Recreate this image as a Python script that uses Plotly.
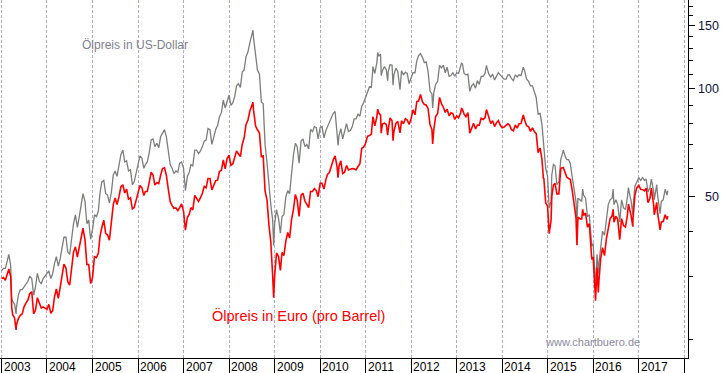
import math
import plotly.graph_objects as go

# ---------------- data ----------------
dates = [
    # 2003
    "2003-01-01", "2003-01-16", "2003-02-01", "2003-02-16", "2003-03-01", "2003-03-16", "2003-03-24",
    "2003-04-01", "2003-04-16", "2003-04-28", "2003-05-01", "2003-05-16", "2003-06-01", "2003-06-16",
    "2003-07-01", "2003-07-16", "2003-08-01", "2003-08-16", "2003-09-01", "2003-09-16", "2003-10-01",
    "2003-10-16", "2003-11-01", "2003-11-16", "2003-12-01", "2003-12-16",
    # 2004
    "2004-01-01", "2004-01-16", "2004-02-01", "2004-02-16", "2004-03-01", "2004-03-16", "2004-04-01",
    "2004-04-16", "2004-05-01", "2004-05-16", "2004-06-01", "2004-06-16", "2004-07-01", "2004-07-16",
    "2004-08-01", "2004-08-16", "2004-09-01", "2004-09-16", "2004-10-01", "2004-10-16", "2004-11-01",
    "2004-11-16", "2004-12-01", "2004-12-16", "2004-12-28",
    # 2005
    "2005-01-01", "2005-01-16", "2005-02-01", "2005-02-16", "2005-03-01", "2005-03-16", "2005-04-01",
    "2005-04-16", "2005-05-01", "2005-05-16", "2005-06-01", "2005-06-16", "2005-07-01", "2005-07-16",
    "2005-08-01", "2005-08-16", "2005-09-01", "2005-09-16", "2005-10-01", "2005-10-16", "2005-11-01",
    "2005-11-16", "2005-12-01", "2005-12-16",
    # 2006
    "2006-01-01", "2006-01-16", "2006-02-01", "2006-02-16", "2006-03-01", "2006-03-16", "2006-04-01",
    "2006-04-16", "2006-05-01", "2006-05-16", "2006-06-01", "2006-06-16", "2006-07-01", "2006-07-16",
    "2006-08-01", "2006-08-16", "2006-09-01", "2006-09-16", "2006-10-01", "2006-10-16", "2006-11-01",
    "2006-11-16", "2006-12-01", "2006-12-16",
    # 2007
    "2007-01-01", "2007-01-16", "2007-02-01", "2007-02-16", "2007-03-01", "2007-03-16", "2007-04-01",
    "2007-04-16", "2007-05-01", "2007-05-16", "2007-06-01", "2007-06-16", "2007-07-01", "2007-07-16",
    "2007-08-01", "2007-08-16", "2007-09-01", "2007-09-16", "2007-10-01", "2007-10-16", "2007-11-01",
    "2007-11-16", "2007-12-01", "2007-12-16",
    # 2008
    "2008-01-01", "2008-01-16", "2008-02-01", "2008-02-16", "2008-03-01", "2008-03-16", "2008-04-01",
    "2008-04-16", "2008-05-01", "2008-05-16", "2008-06-01", "2008-06-16", "2008-07-01", "2008-07-11",
    "2008-07-16", "2008-08-01", "2008-08-16", "2008-09-01", "2008-09-16", "2008-10-01", "2008-10-16",
    "2008-11-01", "2008-11-16", "2008-12-01", "2008-12-16", "2008-12-24",
    # 2009
    "2009-01-01", "2009-01-16", "2009-02-01", "2009-02-16", "2009-03-01", "2009-03-16", "2009-04-01",
    "2009-04-16", "2009-05-01", "2009-05-16", "2009-06-01", "2009-06-16", "2009-07-01", "2009-07-16",
    "2009-08-01", "2009-08-16", "2009-09-01", "2009-09-16", "2009-10-01", "2009-10-16", "2009-11-01",
    "2009-11-16", "2009-12-01", "2009-12-16",
    # 2010
    "2010-01-01", "2010-01-16", "2010-02-01", "2010-02-16", "2010-03-01", "2010-03-16", "2010-04-01",
    "2010-04-16", "2010-05-01", "2010-05-16", "2010-05-25", "2010-06-01", "2010-06-16", "2010-07-01",
    "2010-07-16", "2010-08-01", "2010-08-16", "2010-09-01", "2010-09-16", "2010-10-01", "2010-10-16",
    "2010-11-01", "2010-11-16", "2010-12-01", "2010-12-16",
    # 2011
    "2011-01-01", "2011-01-16", "2011-02-01", "2011-02-16", "2011-02-24", "2011-03-01", "2011-03-16",
    "2011-04-01", "2011-04-08", "2011-04-16", "2011-05-01", "2011-05-06", "2011-05-16", "2011-06-01",
    "2011-06-16", "2011-06-27", "2011-07-01", "2011-07-16", "2011-08-01", "2011-08-09", "2011-08-16",
    "2011-09-01", "2011-09-16", "2011-10-04", "2011-10-16", "2011-11-01", "2011-11-16", "2011-12-01",
    "2011-12-16",
    # 2012
    "2012-01-01", "2012-01-16", "2012-02-01", "2012-02-16", "2012-03-01", "2012-03-16", "2012-04-01",
    "2012-04-16", "2012-05-01", "2012-05-16", "2012-06-01", "2012-06-16", "2012-06-22", "2012-07-01",
    "2012-07-16", "2012-08-01", "2012-08-16", "2012-09-01", "2012-09-16", "2012-10-01", "2012-10-16",
    "2012-11-01", "2012-11-16", "2012-12-01", "2012-12-16",
    # 2013
    "2013-01-01", "2013-01-16", "2013-02-01", "2013-02-08", "2013-02-16", "2013-03-01", "2013-03-16",
    "2013-04-01", "2013-04-16", "2013-05-01", "2013-05-16", "2013-06-01", "2013-06-16", "2013-07-01",
    "2013-07-16", "2013-08-01", "2013-08-16", "2013-08-28", "2013-09-01", "2013-09-16", "2013-10-01",
    "2013-10-16", "2013-11-01", "2013-11-16", "2013-12-01", "2013-12-16",
    # 2014
    "2014-01-01", "2014-01-16", "2014-02-01", "2014-02-16", "2014-03-01", "2014-03-16", "2014-04-01",
    "2014-04-16", "2014-05-01", "2014-05-16", "2014-06-01", "2014-06-19", "2014-07-01", "2014-07-16",
    "2014-08-01", "2014-08-16", "2014-09-01", "2014-09-16", "2014-10-01", "2014-10-16", "2014-11-01",
    "2014-11-16", "2014-11-28", "2014-12-01", "2014-12-16", "2014-12-31",
    # 2015
    "2015-01-13", "2015-01-28", "2015-02-03", "2015-02-16", "2015-03-01", "2015-03-16", "2015-04-01",
    "2015-04-16", "2015-05-06", "2015-05-20", "2015-06-03", "2015-06-17", "2015-07-01", "2015-07-16",
    "2015-08-01", "2015-08-16", "2015-08-24", "2015-09-01", "2015-09-16", "2015-10-01", "2015-10-09",
    "2015-10-16", "2015-11-01", "2015-11-16", "2015-12-01", "2015-12-16", "2015-12-21",
    # 2016
    "2016-01-01", "2016-01-16", "2016-01-20", "2016-02-01", "2016-02-11", "2016-02-16", "2016-03-01",
    "2016-03-16", "2016-04-01", "2016-04-16", "2016-05-01", "2016-05-16", "2016-06-01", "2016-06-09",
    "2016-06-16", "2016-07-01", "2016-07-16", "2016-08-01", "2016-08-16", "2016-09-01", "2016-09-16",
    "2016-10-01", "2016-10-10", "2016-10-16", "2016-11-01", "2016-11-14", "2016-11-16", "2016-12-01",
    "2016-12-16",
    # 2017
    "2017-01-01", "2017-01-16", "2017-02-01", "2017-02-16", "2017-03-01", "2017-03-16", "2017-04-01",
    "2017-04-12", "2017-05-01", "2017-05-05", "2017-05-16", "2017-05-25", "2017-06-01", "2017-06-16",
    "2017-06-21", "2017-07-01", "2017-07-16", "2017-08-01", "2017-08-16", "2017-08-22",
]

usd = [
    # 2003
    31.0, 31.5, 31.5, 33.0, 34.5, 32.0, 26.0, 25.5, 25.0, 23.5, 24.5, 26.5, 27.5, 27.5, 28.0, 28.5,
    29.0, 30.0, 29.5, 26.5, 28.0, 30.5, 29.0, 28.5, 29.5, 30.0,
    # 2004
    30.5, 31.0, 29.5, 30.5, 32.5, 34.0, 32.0, 33.5, 36.0, 38.5, 38.5, 35.0, 34.5, 38.5, 42.0, 44.5,
    41.0, 44.0, 48.0, 51.0, 48.5, 42.0, 43.0, 38.0, 40.0,
    # 2005
    40.5, 44.5, 44.0, 45.5, 51.0, 55.0, 55.5, 51.0, 50.5, 48.0, 51.5, 57.5, 59.0, 57.0, 61.0, 65.5,
    67.5, 62.5, 63.0, 59.0, 59.5, 54.0, 55.0, 58.5,
    # 2006
    61.0, 65.0, 64.0, 60.0, 61.5, 62.5, 66.5, 72.0, 72.5, 69.0, 70.5, 68.5, 73.5, 75.5, 77.0, 73.5,
    67.0, 61.5, 60.0, 58.0, 59.0, 58.5, 62.0, 62.5,
    # 2007
    60.0, 52.0, 57.0, 58.5, 61.5, 61.0, 67.5, 67.5, 66.0, 67.0, 69.0, 71.5, 72.0, 77.5, 77.0, 70.0,
    73.5, 77.0, 79.0, 83.5, 86.0, 93.0, 88.5, 92.0,
    # 2008
    96.0, 90.0, 91.5, 95.5, 102.0, 103.5, 101.0, 111.5, 113.0, 123.0, 127.0, 134.5, 141.0, 146.0,
    138.5, 123.0, 113.0, 110.0, 92.0, 91.0, 70.0, 62.0, 53.0, 47.5, 43.0, 36.5,
    # 2009
    42.0, 46.0, 43.5, 39.5, 44.0, 44.5, 50.0, 52.0, 51.0, 58.0, 65.5, 70.5, 69.0, 62.0, 71.5, 72.5,
    69.0, 70.0, 68.0, 77.0, 76.0, 78.5, 78.0, 72.5,
    # 2010
    78.0, 78.5, 73.0, 76.5, 78.5, 80.0, 83.0, 85.5, 86.5, 75.5, 69.5, 74.0, 77.5, 72.5, 75.5, 80.0,
    76.0, 76.5, 78.5, 82.5, 82.5, 85.0, 84.0, 89.5, 91.5,
    # 2011
    94.5, 98.0, 101.5, 101.0, 111.0, 115.5, 110.5, 118.5, 126.5, 123.5, 125.0, 109.0, 112.5, 115.5,
    113.0, 105.5, 111.5, 117.0, 116.5, 102.5, 109.5, 114.5, 112.0, 99.5, 112.5, 109.5, 111.5, 110.5,
    103.5,
    # 2012
    107.5, 111.0, 111.0, 120.0, 124.0, 125.5, 122.5, 118.5, 119.0, 112.0, 98.5, 97.0, 88.5, 97.5,
    103.0, 105.0, 116.5, 114.5, 116.5, 111.0, 115.0, 108.5, 109.0, 111.0, 108.5,
    # 2013
    111.0, 110.5, 116.5, 118.0, 117.5, 110.5, 109.5, 110.0, 98.5, 102.0, 103.5, 100.5, 105.5, 103.0,
    108.5, 108.5, 110.5, 116.5, 114.5, 110.0, 108.0, 110.0, 106.0, 108.5, 111.0, 109.5,
    # 2014
    107.5, 106.5, 106.5, 109.5, 109.5, 107.0, 105.5, 109.5, 108.0, 109.5, 109.0, 115.0, 112.0, 106.5,
    105.0, 102.0, 102.0, 98.0, 94.5, 85.0, 85.5, 79.5, 70.0, 70.5, 60.0, 57.0,
    # 2015
    46.5, 48.5, 57.5, 61.5, 61.0, 54.0, 55.0, 63.5, 67.5, 65.0, 63.5, 63.5, 62.0, 57.0, 52.0, 48.5,
    42.5, 49.5, 49.0, 48.5, 52.5, 50.5, 49.5, 44.0, 44.5, 37.5, 36.4,
    # 2016
    37.0, 29.0, 27.9, 34.5, 30.5, 32.5, 36.5, 40.0, 39.0, 43.0, 47.5, 49.0, 49.5, 52.5, 47.5, 49.0,
    47.5, 42.5, 49.0, 46.5, 46.0, 49.5, 53.0, 51.5, 48.5, 44.5, 46.5, 53.5, 55.0,
    # 2017
    56.5, 55.5, 56.5, 55.5, 56.0, 51.5, 53.0, 56.0, 51.5, 49.0, 51.5, 54.0, 50.5, 47.0, 44.8, 48.5,
    49.0, 52.5, 50.5, 52.0,
]

eur = [
    # 2003
    29.5, 29.7, 29.2, 30.6, 31.4, 29.9, 24.5, 23.4, 22.9, 21.2, 21.9, 22.8, 23.3, 23.5, 24.6, 25.2,
    25.7, 26.8, 27.1, 23.5, 24.1, 26.1, 25.0, 24.4, 24.6, 24.4,
    # 2004
    24.2, 25.0, 23.6, 24.0, 26.2, 27.6, 26.0, 27.9, 30.0, 32.4, 31.6, 28.9, 28.3, 31.0, 35.0, 36.2,
    33.9, 36.1, 38.7, 40.8, 37.9, 32.3, 32.3, 28.6, 29.4,
    # 2005
    29.8, 34.0, 33.8, 34.7, 38.6, 41.0, 43.0, 39.5, 39.1, 37.8, 42.2, 47.5, 49.6, 47.5, 50.0, 53.3,
    54.0, 51.2, 52.5, 49.2, 49.6, 46.2, 46.6, 48.8,
    # 2006
    51.7, 53.7, 52.9, 50.4, 51.7, 51.7, 55.0, 58.5, 57.5, 53.9, 54.7, 54.4, 57.4, 59.9, 60.2, 57.4,
    52.3, 48.4, 47.2, 46.4, 46.5, 45.7, 46.6, 47.7,
    # 2007
    45.5, 40.3, 43.8, 44.7, 46.6, 45.9, 50.4, 49.6, 48.5, 49.6, 51.1, 53.4, 52.9, 56.2, 56.2, 52.2,
    54.0, 55.4, 55.6, 58.8, 59.3, 63.3, 59.8, 63.9,
    # 2008
    65.3, 61.2, 61.8, 65.0, 67.1, 65.9, 64.7, 70.1, 72.9, 79.4, 81.9, 86.8, 89.2, 91.8, 87.1, 78.8,
    76.9, 75.3, 64.8, 65.0, 51.9, 48.8, 41.7, 37.4, 30.1, 26.1,
    # 2009
    30.0, 34.8, 34.0, 31.1, 34.9, 34.2, 37.6, 39.7, 38.3, 43.0, 46.1, 50.7, 48.9, 44.0, 50.4, 51.1,
    48.6, 47.6, 46.6, 51.7, 51.7, 52.7, 52.0, 50.0,
    # 2010
    54.5, 54.5, 52.5, 55.8, 57.7, 58.4, 61.5, 63.3, 65.0, 60.9, 56.5, 60.7, 63.0, 58.0, 58.5, 61.1,
    59.4, 59.8, 59.9, 59.8, 59.4, 60.7, 61.8, 68.3, 68.8,
    # 2011
    70.5, 73.7, 74.1, 74.8, 80.4, 83.7, 78.9, 83.5, 87.8, 85.8, 84.5, 75.2, 79.8, 80.2, 79.6, 74.3,
    76.9, 83.0, 81.5, 71.7, 76.0, 80.1, 81.2, 75.4, 81.5, 79.9, 82.6, 81.9, 79.6,
    # 2012
    82.7, 87.4, 84.7, 92.3, 92.5, 96.5, 92.1, 90.5, 90.2, 88.2, 79.4, 77.0, 70.2, 76.8, 83.7, 85.4,
    94.7, 90.9, 88.9, 86.0, 87.8, 84.1, 85.8, 85.4, 82.2,
    # 2013
    84.1, 83.1, 85.7, 88.1, 87.7, 85.0, 83.6, 85.9, 75.2, 77.3, 80.2, 77.3, 79.3, 79.2, 82.8, 82.2,
    83.1, 87.6, 86.7, 82.7, 80.0, 81.5, 78.5, 80.4, 81.6, 79.3,
    # 2014
    77.9, 78.3, 78.9, 79.9, 79.3, 77.0, 76.4, 79.3, 77.7, 79.9, 80.1, 84.6, 81.8, 78.9, 78.4, 76.1,
    77.9, 76.0, 75.0, 66.4, 68.4, 63.6, 56.0, 56.4, 48.0, 47.1,
    # 2015
    39.4, 42.9, 50.0, 53.9, 54.5, 50.9, 50.9, 60.0, 60.3, 58.6, 56.7, 56.2, 55.9, 52.3, 47.3, 43.7,
    36.6, 43.8, 43.4, 43.3, 46.1, 44.3, 45.0, 41.1, 42.0, 34.4, 33.4,
    # 2016
    33.9, 26.6, 25.6, 31.7, 27.0, 29.0, 33.5, 36.0, 34.2, 38.1, 41.3, 43.4, 44.2, 46.1, 42.4, 44.1,
    43.2, 37.9, 43.4, 41.5, 41.1, 44.2, 47.7, 46.8, 44.1, 41.2, 43.5, 50.5, 52.9,
    # 2017
    53.8, 52.4, 52.3, 51.9, 52.8, 48.1, 49.5, 52.8, 47.2, 44.5, 46.4, 48.2, 45.1, 42.0, 40.4, 42.5,
    42.6, 44.5, 43.2, 44.1,
]

years = list(range(2003, 2019))
year_labels = [str(y) for y in range(2003, 2018)]
y_major = [50, 100, 150]
y_minor = [20, 30, 40, 60, 70, 80, 90, 110, 120, 130, 140, 160, 170]

label_usd = "Ölpreis in US-Dollar"
label_eur = "Ölpreis in Euro (pro Barrel)"
credit = "www.chartbuero.de"

# ---------------- figure ----------------
FONT = "Liberation Sans, Arial, sans-serif"

fig = go.Figure()
fig.add_trace(go.Scatter(x=dates, y=usd, mode="lines",
                         line=dict(color="#7b7e7b", width=1.3), hoverinfo="skip"))
fig.add_trace(go.Scatter(x=dates, y=eur, mode="lines",
                         line=dict(color="#ff0000", width=1.6), hoverinfo="skip"))

annotations = []
for yl in year_labels:
    annotations.append(dict(x=f"{yl}-01-01", xref="x", y=0, yref="paper",
                            text=yl, showarrow=False, xanchor="left", yanchor="top",
                            xshift=0, yshift=0,
                            font=dict(family=FONT, size=12, color="#000000")))
for v in y_major:
    annotations.append(dict(x=1.048, xref="paper", y=math.log10(v), yref="y",
                            text=str(v), showarrow=False, xanchor="right", yanchor="middle",
                            font=dict(family=FONT, size=12.5, color="#10103a")))
annotations.append(dict(x=80 / 688, xref="paper", y=1 - 45 / 358, yref="paper",
                        text=label_usd, showarrow=False, xanchor="left", yanchor="middle",
                        font=dict(family=FONT, size=12, color="#80808f")))
annotations.append(dict(x=210 / 688, xref="paper", y=1 - 315 / 358, yref="paper",
                        text=label_eur, showarrow=False, xanchor="left", yanchor="middle",
                        font=dict(family=FONT, size=14.5, color="#ff0000")))
annotations.append(dict(x=543 / 688, xref="paper", y=1 - 342 / 358, yref="paper",
                        text=credit, showarrow=False, xanchor="left", yanchor="middle",
                        font=dict(family=FONT, size=11, color="#8a8a9e")))

fig.update_layout(
    width=724, height=373,
    margin=dict(l=0, r=36, t=0, b=15, pad=0),
    paper_bgcolor="white", plot_bgcolor="white",
    showlegend=False,
    annotations=annotations,
    xaxis=dict(
        type="date",
        range=["2002-12-20", "2018-01-31"],
        tickmode="array",
        tickvals=[f"{y}-01-01" for y in years],
        showticklabels=False,
        ticks="outside", ticklen=15, tickwidth=1, tickcolor="#000000",
        showgrid=True, gridcolor="#b4a9c9", gridwidth=1, griddash="3px,2px",
        showline=True, linecolor="#000000", linewidth=1, mirror=True,
        zeroline=False, fixedrange=True,
    ),
    yaxis=dict(
        type="log",
        range=[math.log10(17.7), math.log10(177.3)],
        side="right",
        tickmode="array", tickvals=y_major,
        showticklabels=False,
        ticks="outside", ticklen=6, tickwidth=1, tickcolor="#000000",
        minor=dict(tickmode="array", tickvals=y_minor, ticks="outside",
                   ticklen=4, tickcolor="#000000", showgrid=False),
        showgrid=False, zeroline=False,
        showline=True, linecolor="#000000", linewidth=1,
        fixedrange=True,
    ),
)

fig.write_html(
    "out.html",
    config={"displayModeBar": False, "staticPlot": True},
    post_script="document.body.style.margin='0';document.body.style.padding='0';",
)
